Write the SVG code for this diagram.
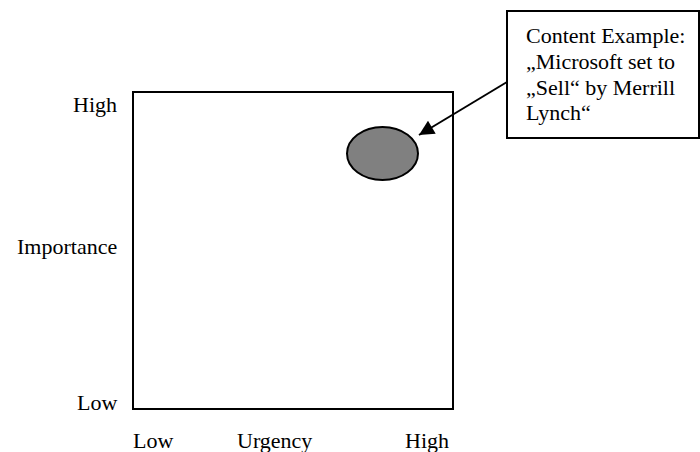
<svg xmlns="http://www.w3.org/2000/svg" width="700" height="452" viewBox="0 0 700 452">
<style>
text{font-family:"Liberation Serif","Times New Roman",serif;font-size:22px;fill:#000}
.ln{fill:none;stroke:#000;stroke-width:2}
</style>
<defs>
<marker id="ah" viewBox="0 0 10 10" refX="10" refY="5" markerWidth="18" markerHeight="15" markerUnits="userSpaceOnUse" orient="auto">
<path d="M0,0 L10,5 L0,10 z" fill="#000"/>
</marker>
</defs>
<rect width="700" height="452" fill="#fff"/>
<g id="matrix">
<rect class="ln" x="133" y="92" width="320" height="317"/>
</g>
<g id="axis-labels">
<text x="73" y="112">High</text>
<text x="17" y="254">Importance</text>
<text x="77" y="410">Low</text>
<text x="133" y="448">Low</text>
<text x="237" y="448">Urgency</text>
<text x="405" y="448">High</text>
</g>
<g id="item">
<ellipse cx="382.5" cy="153.5" rx="35.5" ry="26.5" fill="#808080" stroke="#000" stroke-width="2"/>
</g>
<g id="callout">
<rect class="ln" x="507" y="11" width="192" height="127"/>
<text x="526" y="43">Content Example:</text>
<text x="526" y="69">„Microsoft set to</text>
<text x="526" y="95">„Sell“ by Merrill</text>
<text x="526" y="120">Lynch“</text>
</g>
<g id="connectors">
<line x1="507" y1="82" x2="419" y2="135" stroke="#000" stroke-width="2" marker-end="url(#ah)"/>
</g>
</svg>
